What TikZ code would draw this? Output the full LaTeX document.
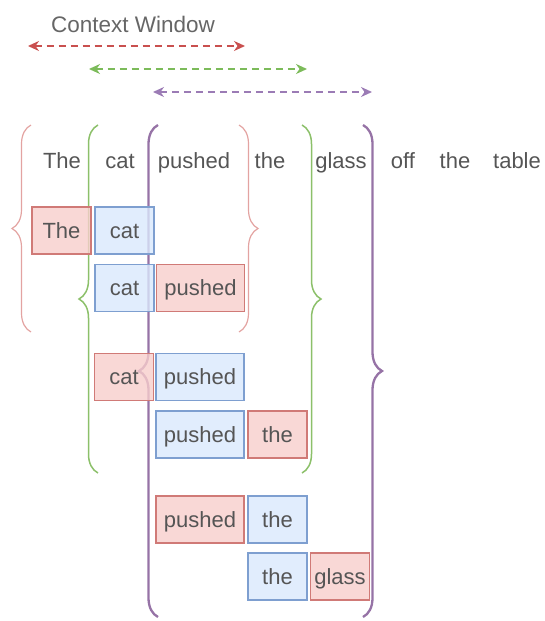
\documentclass[tikz,border=0pt]{standalone}
\usepackage{fontspec}
\setmainfont{Liberation Sans}
\usetikzlibrary{arrows.meta,decorations.pathreplacing}
\definecolor{wordgray}{HTML}{555555}
\definecolor{titlegray}{HTML}{666666}
\definecolor{redfill}{HTML}{F8CECC}
\definecolor{reddraw}{HTML}{D07A77}
\definecolor{bluefill}{HTML}{DAE8FC}
\definecolor{bluedraw}{HTML}{7E9FD0}
\definecolor{arrred}{HTML}{C9504F}
\definecolor{arrgreen}{HTML}{7CBB5A}
\definecolor{arrpurple}{HTML}{9B7BB5}
\definecolor{bracered}{HTML}{E3A3A1}
\definecolor{bracegreen}{HTML}{8CC06A}
\definecolor{bracepurple}{HTML}{9673A6}
\begin{document}
\begin{tikzpicture}[x=1pt,y=-1pt,
  wordfont/.style={font=\fontsize{22}{26}\selectfont, text=wordgray,
    text height=16pt, text depth=1pt},
  word/.style={wordfont, inner sep=0pt, anchor=center},
  tok/.style={wordfont, minimum height=47pt, minimum width=59pt, inner sep=0pt,
    line width=1.2pt, anchor=center, fill opacity=0.8, text opacity=1},
  longtok/.style={tok, minimum width=88pt},
  redtok/.style={tok, fill=redfill, draw=reddraw},
  bluetok/.style={tok, fill=bluefill, draw=bluedraw},
  windowarrow/.style={line width=2pt, dash pattern=on 7pt off 5pt,
    {Stealth[length=11pt,width=10pt]}-{Stealth[length=11pt,width=10pt]}},
  bracebase/.style={decorate, decoration={brace, amplitude=19pt}},
  redbrace/.style={bracebase, draw=bracered, line width=1.2pt},
  greenbrace/.style={bracebase, draw=bracegreen, line width=1.5pt},
  purplebrace/.style={bracebase, draw=bracepurple, line width=2.3pt},
]
\useasboundingbox (0,0) rectangle (544,621);

% title and window arrows
\node[font=\fontsize{22.5}{26}\selectfont, text=titlegray, inner sep=0pt] (title) at (133,24) {Context Window};
\coordinate (ra) at (28,46);  \coordinate (rb) at (245,46);
\coordinate (ga) at (89,69);  \coordinate (gb) at (307,69);
\coordinate (pa) at (153,92); \coordinate (pb) at (372,92);
\draw[windowarrow, arrred] (ra) -- (rb);
\draw[windowarrow, arrgreen] (ga) -- (gb);
\draw[windowarrow, arrpurple] (pa) -- (pb);

% sentence
\node[word] (w1) at (62,161) {The};
\node[word] (w2) at (120,161) {cat};
\node[word] (w3) at (194,161) {pushed};
\node[word] (w4) at (270,161) {the};
\node[word] (w5) at (341,161) {glass};
\node[word] (w6) at (403,161) {off};
\node[word] (w7) at (455,161) {the};
\node[word] (w8) at (517,161) {table};

% window braces
\coordinate (rlt) at (31,125);  \coordinate (rlb) at (31,332);
\coordinate (rrt) at (239,125); \coordinate (rrb) at (239,332);
\coordinate (glt) at (98,125);  \coordinate (glb) at (98,473);
\coordinate (grt) at (302,125); \coordinate (grb) at (302,473);
\coordinate (plt) at (158,125); \coordinate (plb) at (158,617);
\coordinate (prt) at (363,125); \coordinate (prb) at (363,617);
\draw[redbrace] (rlb) -- (rlt);
\draw[redbrace] (rrt) -- (rrb);
\draw[greenbrace] (glb) -- (glt);
\draw[greenbrace] (grt) -- (grb);
\draw[purplebrace] (plb) -- (plt);
\draw[purplebrace] (prt) -- (prb);

% input / target pairs
\node[redtok]  (a1) at (61.5,230.5) {The};
\node[bluetok] (a2) at (124.5,230.5) {cat};
\node[bluetok] (b1) at (124.5,288) {cat};
\node[redtok, longtok] (b2) at (200.5,288) {pushed};
\node[redtok]  (c1) at (124,377) {cat};
\node[bluetok, longtok] (c2) at (200,377) {pushed};
\node[bluetok, longtok] (d1) at (200,434.5) {pushed};
\node[redtok]  (d2) at (277.5,434.5) {the};
\node[redtok, longtok] (e1) at (200,519.5) {pushed};
\node[bluetok] (e2) at (277.5,519.5) {the};
\node[bluetok] (f1) at (277.5,576.5) {the};
\node[redtok]  (f2) at (340,576.5) {glass};
\end{tikzpicture}
\end{document}
